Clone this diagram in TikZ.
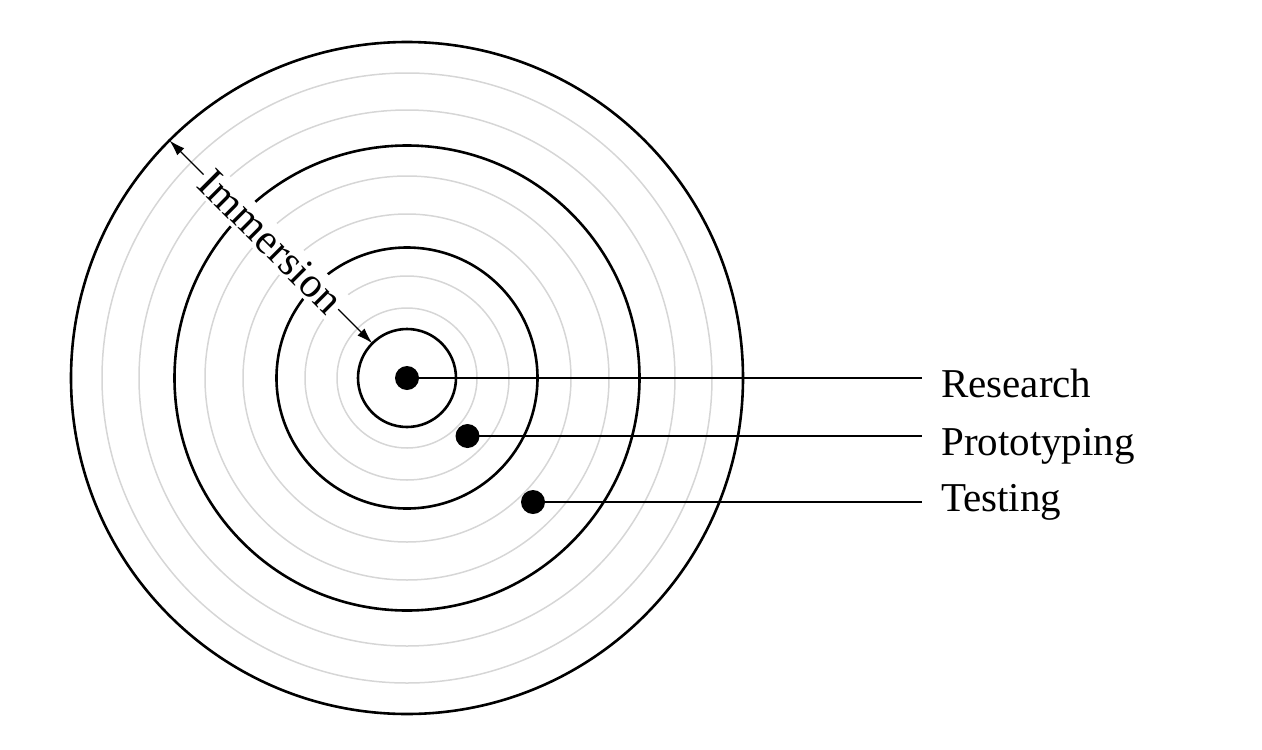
\documentclass[tikz,border=0pt]{standalone}
\usepackage{fontspec}
\setmainfont{Liberation Serif}
\usetikzlibrary{arrows.meta,calc}
\begin{document}
\begin{tikzpicture}[x=1pt,y=-1pt,
  ring/.style={line width=2.6pt,black},
  faint/.style={line width=1.5pt,black!16},
  link/.style={line width=2.2pt,black},
  dot/.style={circle,fill=black,inner sep=0pt,minimum size=24pt},
  lbl/.style={font=\fontsize{41}{49}\selectfont,inner sep=0pt},
  arr/.style={line width=1.4pt,-{Latex[length=16pt,width=10pt]}}]
\useasboundingbox (0,0) rectangle (1262,750);
\coordinate (o) at (407,378);
% faint rings
\foreach \r in {70,102,164,202,268,305}{\draw[faint] (o) circle[radius=\r];}
% black rings
\foreach \r in {49,130.5,232.5,336}{\draw[ring] (o) circle[radius=\r];}
% dots and leaders
\node[dot] (d1) at (407,378) {};
\node[dot] (d2) at (467.5,436) {};
\node[dot] (d3) at (533,502) {};
\coordinate (e1) at (922,378);
\coordinate (e2) at (922,436);
\coordinate (e3) at (922,502);
\draw[link] (d1.center) -- (e1);
\draw[link] (d2.center) -- (e2);
\draw[link] (d3.center) -- (e3);
\node[lbl,anchor=base west] (t1) at (941,397) {Research};
\node[lbl,anchor=base west] (t2) at (941,455) {Prototyping};
\node[lbl,anchor=base west] (t3) at (941,511) {Testing};
% immersion
\coordinate (p1) at ($(o)+(225:336)$);
\coordinate (p2) at ($(o)+(225:49)$);
\node[lbl,font=\fontsize{42.5}{50}\selectfont,fill=white,inner sep=3pt,rotate=-45] (imm) at ($(p1)!0.5!(p2)$) {Immersion};
\draw[arr] (imm.west) -- (p1);
\draw[arr] (imm.east) -- (p2);
\end{tikzpicture}
\end{document}
